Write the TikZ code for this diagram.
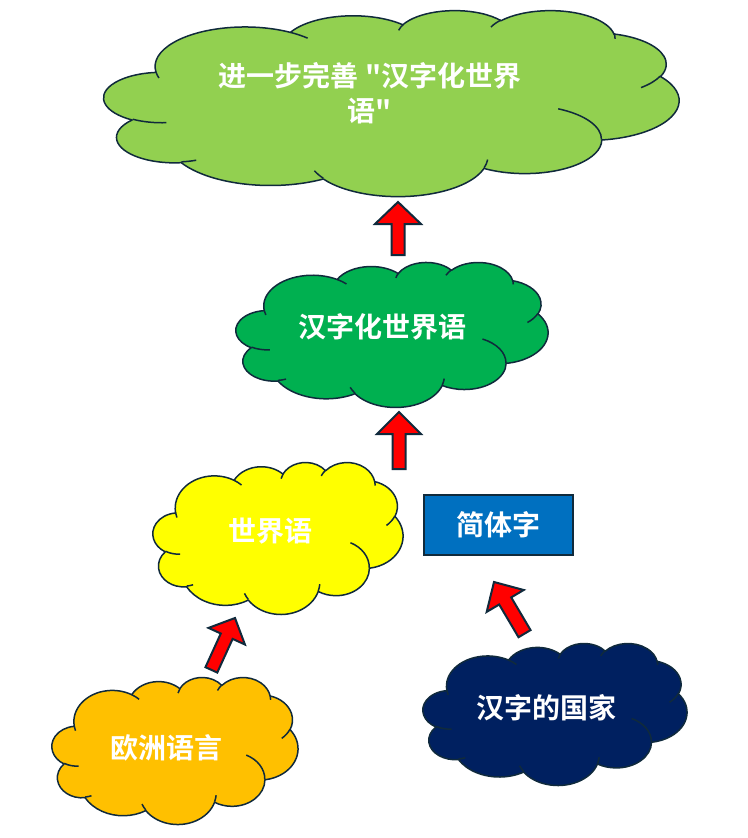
\documentclass[tikz,border=0pt]{standalone}
\usepackage{fontspec}
\setmainfont{Noto Sans CJK SC}[Ligatures=TeXOff,BoldFont={* Bold}]
\definecolor{outl}{RGB}{16,42,60}
\definecolor{cTop}{HTML}{92D050}
\definecolor{cMid}{HTML}{00B050}
\definecolor{cYel}{HTML}{FFFF00}
\definecolor{cOra}{HTML}{FFC000}
\definecolor{cNav}{HTML}{002060}
\definecolor{cBox}{HTML}{0070C0}
\definecolor{cRed}{HTML}{FF0000}
% OOXML-like arc: wR hR stAng swAng (angles in 60000ths of a degree, visual angles)
\def\ootp#1#2#3{atand((#1)*sind(#3),(#2)*cosd(#3))}
\def\oodelraw#1#2#3#4{(\ootp{#1}{#2}{((#3)+(#4))/60000})-(\ootp{#1}{#2}{(#3)/60000})}
\newcommand\ooarc[4]{arc[start angle=\fpeval{round(\ootp{#1}{#2}{(#3)/60000},5)},delta angle=\fpeval{round((\oodelraw{#1}{#2}{#3}{#4})-360*floor((\oodelraw{#1}{#2}{#3}{#4})/360)-((#4<0)?360:0),5)},x radius=\fpeval{#1/10},y radius=\fpeval{#2/10}] }
\edef\cloudouter{(390,1437)
 \ooarc{6753}{9190}{-11429249}{7426832}
 \ooarc{5333}{7267}{-8646143}{5396714}
 \ooarc{4365}{5945}{-8748475}{5983381}
 \ooarc{4857}{6595}{-7859164}{7034504}
 \ooarc{5333}{7273}{-4722533}{6541615}
 \ooarc{6775}{9220}{-2776035}{7816140}
 \ooarc{5785}{7867}{37501}{6842000}
 \ooarc{6752}{9215}{1347096}{6910353}
 \ooarc{7720}{10543}{3974558}{4542661}
 \ooarc{4360}{5918}{-16496525}{8804134}
 \ooarc{4345}{5945}{-14809710}{9151131} -- cycle}
\edef\cloudinner{(469.3,2617.7) \ooarc{4345}{5945}{5204520}{1585770}
 (692.8,3489.9) \ooarc{4360}{5918}{4416628}{686848}
 (1647.8,3909.0) \ooarc{6752}{9215}{8257449}{844866}
 (2882.7,3475.1) \ooarc{6752}{9215}{387196}{959901}
 (3412.9,2295.4) \ooarc{5785}{7867}{-4217541}{4255042}
 (4179.8,1535.4) \ooarc{5333}{7273}{1819082}{1665090}
 (3832.4,542.6) \ooarc{4857}{6595}{-824660}{891534}
 (2907.8,395.2) \ooarc{4857}{6595}{-8950887}{1091722}
 (2214.1,472.0) \ooarc{4365}{5945}{-9809656}{1061181}
 (1400.0,519.2) \ooarc{6753}{9190}{-4002417}{739161}
 (412.7,1578.9) \ooarc{6753}{9190}{9459261}{711490}}
\newcommand\ppfill[2]{\filldraw[cloudline,fill=#2] #1;}
\newcommand\ppline[1]{\draw[cloudline] #1;}
\newcommand\ppcloud[5]{\begin{scope}[shift={(#1,#2)},xscale=#3/4320,yscale=#4/4320]
 \expandafter\ppfill\expandafter{\cloudouter}{#5}
 \expandafter\ppline\expandafter{\cloudinner}
 \end{scope}}
\newcommand\blockarrow[7]{\filldraw[arrowstyle,shift={(#1,#2)},rotate=#3]
 (0,0) -- (#5/2,#6) -- (#7/2,#6) -- (#7/2,#4) -- (-#7/2,#4) -- (-#7/2,#6) -- (-#5/2,#6) -- cycle;}
\begin{document}
\begin{tikzpicture}[x=1pt,y=-1pt,
  cloudline/.style={draw=outl,line width=1.5pt,line join=round},
  arrowstyle/.style={draw=outl,fill=cRed,line width=2pt,line join=miter},
  txt/.style={text=white,inner sep=0pt,align=center,font=\bfseries\fontsize{28}{35}\selectfont},
  boxstyle/.style={draw=outl,fill=cBox,line width=2pt,minimum width=149pt,minimum height=60pt,inner sep=0pt,text=white,font=\bfseries\fontsize{28}{35}\selectfont}]
\useasboundingbox (0,0) rectangle (747,838);
% clouds
\ppcloud{104}{10}{575}{186}{cTop}
\ppcloud{236}{262}{312}{145}{cMid}
\ppcloud{153}{462}{250}{152}{cYel}
\ppcloud{52}{677}{246}{147}{cOra}
\ppcloud{423}{643}{264}{142}{cNav}
% texts
\node[txt] (goal) at (370,93.5) {进一步完善 "汉字化世界\\语"};
\node[txt] (hanzi) at (382,327) {汉字化世界语};
\node[txt] (esp) at (270,531) {世界语};
\node[boxstyle] (simp) at (498.5,525) {简体字};
\node[txt] (euro) at (166,748) {欧洲语言};
\node[txt] (nations) at (546,708) {汉字的国家};
% block arrows
\blockarrow{398}{202}{0}{53}{46}{22}{13}
\blockarrow{399}{412}{0}{57}{44}{22}{13}
\blockarrow{235}{618}{-24.5}{57}{40}{20}{13}
\blockarrow{494}{582}{30.6}{60}{43}{22}{14}
\end{tikzpicture}
\end{document}
